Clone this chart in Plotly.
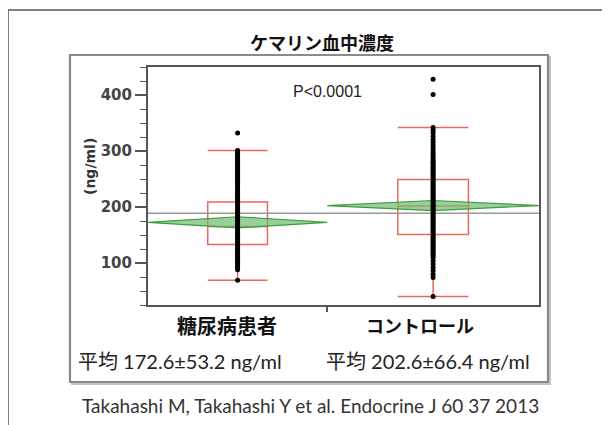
import plotly.graph_objects as go

# ---------------- data ----------------
groups = ["糖尿病患者", "コントロール"]
group_n = [88, 104]                 # relative group widths (JMP proportional x axis)
means = [172.6, 202.6]
sds = [53.2, 66.4]
ci_half = [10.0, 9.0]               # half-height of mean diamonds
grand_mean = 189
q1 = [133, 151]
median = [165, 202]
q3 = [209, 249]
whisker_lo = [69, 40]
whisker_hi = [301, 342]
mean_labels = ["平均 172.6±53.2 ng/ml", "平均 202.6±66.4 ng/ml"]
p_label = "P<0.0001"
title = "ケマリン血中濃度"
y_title = "(ng/ml)"
y_ticks = [100, 200, 300, 400]
caption = "Takahashi M, Takahashi Y et al. Endocrine J 60 37 2013"

points_dm = [69, 88, 91, 94, 97, 100, 103, 106, 109, 112, 115, 118, 121, 124, 127, 130,
             133, 136, 139, 142, 145, 148, 151, 154, 157, 160, 163, 166, 169, 172, 175,
             178, 181, 184, 187, 190, 193, 196, 199, 202, 205, 208, 211, 214, 217, 220,
             223, 226, 229, 232, 235, 238, 241, 244, 247, 250, 253, 256, 259, 262, 265,
             268, 271, 274, 277, 280, 283, 286, 289, 292, 295, 298, 301, 332]
points_ctrl = [40, 74, 80, 86, 92, 98, 104, 110, 113, 116, 119, 122, 125, 128, 131, 134,
               137, 140, 143, 146, 149, 152, 155, 158, 161, 164, 167, 170, 173, 176, 179,
               182, 185, 188, 191, 194, 197, 200, 203, 206, 209, 212, 215, 218, 221, 224,
               227, 230, 233, 236, 239, 242, 245, 248, 251, 254, 257, 260, 263, 266, 269,
               272, 275, 278, 281, 284, 288, 292, 296, 300, 305, 310, 315, 320, 326, 332,
               337, 342, 401, 428]
points = [points_dm, points_ctrl]

# ---------------- layout helpers (screen pixel coordinates) ----------------
OFF = 8                      # page body margin
SW, SH = 610, 425            # window size
W, H = SW - OFF, SH - OFF    # figure size
L, R, T, B = 148, 539, 67, 305   # plot area on screen


def px_x(px):
    return (px - L) / (R - L)


def px_y(py):
    return (B - py) / (B - T)


RED = "#E8695A"
GREEN_LINE = "#3E9B3E"
GREEN_FILL = "rgba(110,188,110,0.7)"

edges = [0, group_n[0], group_n[0] + group_n[1]]
centers = [(edges[i] + edges[i + 1]) / 2 for i in range(2)]

fig = go.Figure()

# grand mean line
fig.add_trace(go.Scatter(x=[edges[0], edges[2]], y=[grand_mean, grand_mean], mode="lines",
                         line=dict(color="#9a9a9a", width=1.5), hoverinfo="skip", showlegend=False))

# mean diamonds
for i in range(2):
    x0, x1, xc = edges[i], edges[i + 1], centers[i]
    m, c = means[i], ci_half[i]
    fig.add_trace(go.Scatter(x=[x0, xc, x1, xc, x0], y=[m, m + c, m, m - c, m], mode="lines",
                             fill="toself", fillcolor=GREEN_FILL,
                             line=dict(color=GREEN_LINE, width=1.2), hoverinfo="skip", showlegend=False))

# box plots
for i in range(2):
    fig.add_trace(go.Box(x=[centers[i]], q1=[q1[i]], median=[median[i]], q3=[q3[i]],
                         lowerfence=[whisker_lo[i]], upperfence=[whisker_hi[i]],
                         width=group_n[i] / 3, whiskerwidth=1, boxpoints=False,
                         line=dict(color=RED, width=1.5), fillcolor="rgba(0,0,0,0)",
                         hoverinfo="skip", showlegend=False))

# points
for i in range(2):
    fig.add_trace(go.Scatter(x=[centers[i]] * len(points[i]), y=points[i], mode="markers",
                             marker=dict(color="black", size=5), hoverinfo="skip", showlegend=False))

shapes = []
# outer frame (left + top)
shapes.append(dict(type="line", xref="paper", yref="paper", x0=px_x(8), x1=px_x(8),
                   y0=px_y(10), y1=px_y(430), line=dict(color="#555", width=1.5)))
shapes.append(dict(type="line", xref="paper", yref="paper", x0=px_x(8), x1=px_x(615),
                   y0=px_y(10), y1=px_y(10), line=dict(color="#555", width=1.5)))
# inner panel with shadow
shapes.append(dict(type="rect", xref="paper", yref="paper", x0=px_x(72), x1=px_x(550),
                   y0=px_y(384), y1=px_y(57), line=dict(color="#c4c4c4", width=2), layer="below"))
shapes.append(dict(type="rect", xref="paper", yref="paper", x0=px_x(70), x1=px_x(548),
                   y0=px_y(382), y1=px_y(55), line=dict(color="#8a8a8a", width=2.2),
                   fillcolor="white", layer="below"))

annotations = []
annotations.append(dict(text=title, xref="paper", yref="paper", x=px_x(322), y=px_y(42),
                        showarrow=False, xanchor="center", yanchor="middle",
                        font=dict(family="Noto Sans CJK JP", size=18, color="#111", weight="bold")))
annotations.append(dict(text=p_label, xref="paper", yref="paper", x=px_x(327), y=px_y(91),
                        showarrow=False, xanchor="center", yanchor="middle",
                        font=dict(family="Liberation Sans", size=16, color="#222")))
annotations.append(dict(text=y_title, xref="paper", yref="paper", x=px_x(90), y=px_y(167),
                        showarrow=False, xanchor="center", yanchor="middle", textangle=-90,
                        font=dict(family="DejaVu Sans", size=14, color="#333", weight="bold")))
label_sizes = [20, 18]
label_shift = [-11, -13]
for i in range(2):
    annotations.append(dict(text=groups[i], xref="x", yref="paper", x=centers[i], y=px_y(325),
                            xshift=label_shift[i], showarrow=False, xanchor="center", yanchor="middle",
                            font=dict(family="Noto Sans CJK JP", size=label_sizes[i], color="#111",
                                      weight="bold")))
mean_x = [180, 428]
for i in range(2):
    annotations.append(dict(text=mean_labels[i], xref="paper", yref="paper", x=px_x(mean_x[i]),
                            y=px_y(361), showarrow=False, xanchor="center", yanchor="middle",
                            font=dict(family="Lato, Noto Sans CJK JP", size=20, color="#222")))
annotations.append(dict(text=caption, xref="paper", yref="paper", x=px_x(310), y=px_y(405),
                        showarrow=False, xanchor="center", yanchor="middle",
                        font=dict(family="Lato", size=19, color="#333")))

fig.update_layout(
    width=W, height=H,
    margin=dict(l=L - OFF, r=SW - R, t=T - OFF, b=SH - B),
    paper_bgcolor="white", plot_bgcolor="white",
    shapes=shapes, annotations=annotations, showlegend=False,
    xaxis=dict(range=[edges[0], edges[2]], tickvals=[edges[1]], ticktext=[""],
               ticks="outside", ticklen=5, tickwidth=1.5, tickcolor="#555",
               showgrid=False, zeroline=False, showline=True, mirror=True,
               linecolor="#555", linewidth=2),
    yaxis=dict(range=[25, 450], tickvals=y_ticks, ticks="outside", ticklen=11, tickwidth=1.5,
               tickcolor="#555", showgrid=False, zeroline=False, showline=True, mirror=True,
               linecolor="#555", linewidth=2,
               tickfont=dict(family="DejaVu Sans", size=15, color="#444", weight="bold"),
               minor=dict(dtick=25, ticks="outside", ticklen=6, tickwidth=1.2, tickcolor="#555")),
)

fig.write_html("out.html")
